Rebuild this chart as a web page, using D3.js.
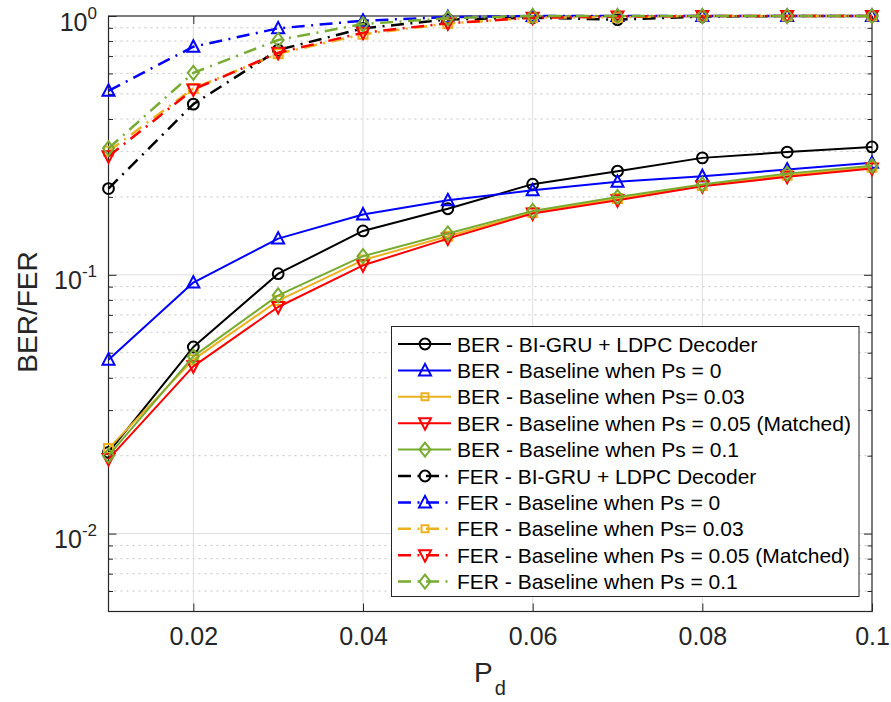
<!DOCTYPE html>
<html>
<head>
<meta charset="utf-8">
<script src="https://cdn.jsdelivr.net/npm/d3@7"></script>
<style>
  html, body { margin: 0; padding: 0; background: #fff; }
  svg { display: block; font-family: "Liberation Sans", Arial, Helvetica, sans-serif; }
</style>
</head>
<body>
<svg id="chart" width="891" height="702"></svg>
<script>
// ---------- data ----------
const pd = [0.01, 0.02, 0.03, 0.04, 0.05, 0.06, 0.07, 0.08, 0.09, 0.10];

const berBiGRU  = [0.0206, 0.0526, 0.101, 0.1477, 0.180, 0.224, 0.2515, 0.283, 0.298, 0.312];
const berPs0    = [0.0470, 0.0933, 0.138, 0.171, 0.194, 0.212, 0.2286, 0.2404, 0.255, 0.2707];
const berPs003  = [0.0213, 0.0470, 0.0795, 0.114, 0.141, 0.174, 0.197, 0.2215, 0.2425, 0.2605];
const berPs005  = [0.0194, 0.0443, 0.0751, 0.1088, 0.138, 0.1725, 0.194, 0.220, 0.239, 0.2575];
const berPs01   = [0.0200, 0.0484, 0.0833, 0.118, 0.1445, 0.1765, 0.200, 0.2234, 0.246, 0.2636];

const ferBiGRU  = [0.2154, 0.4565, 0.739, 0.896, 0.970, 0.985, 0.968, 0.995, 1.0, 1.0];
const ferPs0    = [0.514, 0.761, 0.896, 0.959, 0.990, 1.0, 1.0, 1.0, 1.0, 1.0];
const ferPs003  = [0.300, 0.525, 0.715, 0.850, 0.935, 0.985, 0.990, 1.0, 1.0, 1.0];
const ferPs005  = [0.287, 0.520, 0.721, 0.862, 0.937, 0.985, 0.995, 1.0, 1.0, 1.0];
const ferPs01   = [0.308, 0.603, 0.808, 0.931, 0.980, 1.0, 1.0, 1.0, 1.0, 1.0];

const seriesNames = [
  "BER - BI-GRU + LDPC Decoder",
  "BER - Baseline when Ps = 0",
  "BER - Baseline when Ps= 0.03",
  "BER - Baseline when Ps = 0.05 (Matched)",
  "BER - Baseline when Ps = 0.1",
  "FER - BI-GRU + LDPC Decoder",
  "FER - Baseline when Ps = 0",
  "FER - Baseline when Ps= 0.03",
  "FER - Baseline when Ps = 0.05 (Matched)",
  "FER - Baseline when Ps = 0.1"
];
const seriesValues = [berBiGRU, berPs0, berPs003, berPs005, berPs01,
                      ferBiGRU, ferPs0, ferPs003, ferPs005, ferPs01];
const seriesColors = ["#000000", "#0000ff", "#edb120", "#ff0000", "#77ac30",
                      "#000000", "#0000ff", "#edb120", "#ff0000", "#77ac30"];
const seriesMarkers = ["circle", "triUp", "square", "triDown", "diamond",
                       "circle", "triUp", "square", "triDown", "diamond"];
const seriesDashed = [false, false, false, false, false, true, true, true, true, true];

const xTicks = [0.02, 0.04, 0.06, 0.08, 0.1];
const xTickLabels = ["0.02", "0.04", "0.06", "0.08", "0.1"];
const yMajor = [0.01, 0.1, 1];
const yMajorExp = ["-2", "-1", "0"];
const yMinor = [0.006, 0.007, 0.008, 0.009, 0.02, 0.03, 0.04, 0.05, 0.06, 0.07, 0.08, 0.09,
                0.2, 0.3, 0.4, 0.5, 0.6, 0.7, 0.8, 0.9];

// ---------- layout ----------
const L = 108.5, R = 872, T = 16, B = 611.5;
const axisColor = "#262626";
const svg = d3.select("#chart");

const x = d3.scaleLinear().domain([0.01, 0.1]).range([L, R]);
const y = d3.scaleLog().domain([0.005, 1]).range([B, T]);

// ---------- grid ----------
const grid = svg.append("g");
grid.selectAll("line.minor").data(yMinor).join("line")
  .attr("x1", L).attr("x2", R)
  .attr("y1", d => y(d)).attr("y2", d => y(d))
  .attr("stroke", "#c4c4c4").attr("stroke-width", 1)
  .attr("stroke-dasharray", "2,4");
grid.selectAll("line.ymaj").data(yMajor.filter(d => d < 1)).join("line")
  .attr("x1", L).attr("x2", R)
  .attr("y1", d => y(d)).attr("y2", d => y(d))
  .attr("stroke", "#dedede").attr("stroke-width", 1);
svg.append("g").selectAll("line").data(xTicks.filter(d => d < 0.1)).join("line")
  .attr("x1", d => x(d)).attr("x2", d => x(d))
  .attr("y1", T).attr("y2", B)
  .attr("stroke", "#dedede").attr("stroke-width", 1);

// ---------- axes ----------
function styleAxis(g) {
  g.select(".domain").remove();
  g.selectAll(".tick line").attr("stroke", axisColor).attr("stroke-width", 1);
  g.selectAll("text").attr("fill", axisColor);
}
const xb = svg.append("g").attr("transform", `translate(0,${B})`)
  .call(d3.axisBottom(x).tickValues(xTicks).tickSize(-8).tickPadding(16)
        .tickFormat((d, i) => xTickLabels[i]));
xb.selectAll("text").attr("font-size", 25).attr("font-family", "Liberation Sans, Arial, sans-serif");
styleAxis(xb);
const xt = svg.append("g").attr("transform", `translate(0,${T})`)
  .call(d3.axisTop(x).tickValues(xTicks).tickSize(-8).tickFormat(""));
styleAxis(xt);

const yl = svg.append("g").attr("transform", `translate(${L},0)`)
  .call(d3.axisLeft(y).tickValues(yMajor).tickSize(-8).tickFormat(""));
styleAxis(yl);
const ylm = svg.append("g").attr("transform", `translate(${L},0)`)
  .call(d3.axisLeft(y).tickValues(yMinor).tickSize(-4.5).tickFormat(""));
styleAxis(ylm);
const yr = svg.append("g").attr("transform", `translate(${R},0)`)
  .call(d3.axisRight(y).tickValues(yMajor).tickSize(-8).tickFormat(""));
styleAxis(yr);
const yrm = svg.append("g").attr("transform", `translate(${R},0)`)
  .call(d3.axisRight(y).tickValues(yMinor).tickSize(-4.5).tickFormat(""));
styleAxis(yrm);

// y tick labels 10^n
const ylab = svg.append("g");
yMajor.forEach((v, i) => {
  const t = ylab.append("text")
    .attr("x", 97).attr("y", y(v) + 14.5)
    .attr("text-anchor", "end")
    .attr("fill", axisColor)
    .attr("font-size", 25);
  t.append("tspan").text("10");
  t.append("tspan").attr("font-size", 17).attr("dy", -12).text(yMajorExp[i]);
});

// box
svg.append("rect").attr("x", L).attr("y", T).attr("width", R - L).attr("height", B - T)
  .attr("fill", "none").attr("stroke", axisColor).attr("stroke-width", 1.2);

// axis labels
const xlab = svg.append("text").attr("x", 474).attr("y", 681.5)
  .attr("fill", axisColor).attr("font-size", 28);
xlab.append("tspan").text("P");
xlab.append("tspan").attr("font-size", 20).attr("dy", 13).attr("dx", 2).text("d");

svg.append("text").attr("transform", "translate(37,312) rotate(-90)")
  .attr("text-anchor", "middle").attr("fill", axisColor).attr("font-size", 28)
  .text("BER/FER");

// ---------- markers ----------
function markerPath(type) {
  switch (type) {
    case "circle": return d3.symbol(d3.symbolCircle, Math.PI * 5.4 * 5.4)();
    case "square": return "M-4.5,-4.5H4.5V4.5H-4.5Z";
    case "triUp": return "M0,-6.5L6,5L-6,5Z";
    case "triDown": return "M0,6.5L6,-5L-6,-5Z";
    case "diamond": return "M0,-7L5.5,0L0,7L-5.5,0Z";
  }
}
const dashPattern = "13,6.5,2,6.5";

// ---------- series ----------
const line = d3.line().x(d => x(d[0])).y(d => y(d[1]));
const plot = svg.append("g");
seriesValues.forEach((vals, si) => {
  const pts = pd.map((p, i) => [p, vals[i]]);
  const g = plot.append("g");
  g.append("path").datum(pts)
    .attr("d", line)
    .attr("fill", "none")
    .attr("stroke", seriesColors[si])
    .attr("stroke-width", seriesDashed[si] ? 2.5 : 2)
    .attr("stroke-linejoin", "round")
    .attr("stroke-dasharray", seriesDashed[si] ? dashPattern : null);
  g.selectAll("path.m").data(pts).join("path")
    .attr("class", "m")
    .attr("transform", d => `translate(${x(d[0])},${y(d[1])})`)
    .attr("d", markerPath(seriesMarkers[si]))
    .attr("fill", "none")
    .attr("stroke", seriesColors[si])
    .attr("stroke-width", 2);
});

// ---------- legend ----------
const lg = svg.append("g");
lg.append("rect").attr("x", 391.5).attr("y", 326.5).attr("width", 467.5).attr("height", 270)
  .attr("fill", "#fff").attr("stroke", axisColor).attr("stroke-width", 1);
seriesNames.forEach((name, i) => {
  const ry = 344 + i * 26.4;
  lg.append("line").attr("x1", 398).attr("x2", 451).attr("y1", ry).attr("y2", ry)
    .attr("stroke", seriesColors[i])
    .attr("stroke-width", seriesDashed[i] ? 2.5 : 2)
    .attr("stroke-dasharray", seriesDashed[i] ? dashPattern : null);
  lg.append("path").attr("transform", `translate(425,${ry})`)
    .attr("d", seriesMarkers[i] === "square" ? "M-3.5,-3.5H3.5V3.5H-3.5Z" : markerPath(seriesMarkers[i]))
    .attr("fill", "none").attr("stroke", seriesColors[i]).attr("stroke-width", 2);
  lg.append("text").attr("x", 457).attr("y", ry + 7.5)
    .attr("font-size", 21).attr("fill", "#000").text(name);
});
</script>
</body>
</html>
